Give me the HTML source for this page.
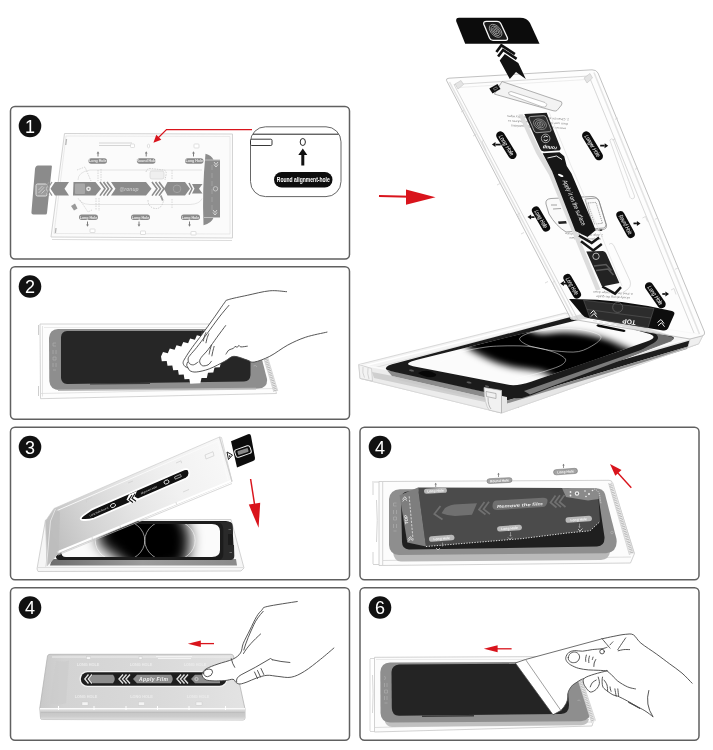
<!DOCTYPE html>
<html><head><meta charset="utf-8">
<style>
html,body{margin:0;padding:0;background:#fff;}
body{width:713px;height:750px;overflow:hidden;font-family:"Liberation Sans",sans-serif;}
svg{display:block;}
.pn{fill:#fff;stroke:#606060;stroke-width:1.5;}
.num{fill:#fff;font-family:"Liberation Sans",sans-serif;font-size:18px;text-anchor:middle;}
.ln{fill:none;stroke:#444;stroke-width:0.9;stroke-linecap:round;stroke-linejoin:round;}
.hand{fill:#fff;stroke:#333;stroke-width:0.9;stroke-linecap:round;stroke-linejoin:round;}
.tray{fill:none;stroke:#bdbdbd;stroke-width:0.8;}
text{filter:grayscale(1);}
</style></head><body>
<svg width="713" height="750" viewBox="0 0 713 750">
<defs>
<linearGradient id="scr" x1="0" y1="0" x2="1" y2="0">
<stop offset="0" stop-color="#fff"/><stop offset="0.25" stop-color="#999"/><stop offset="0.55" stop-color="#111"/><stop offset="1" stop-color="#000"/>
</linearGradient>
</defs>
<rect width="713" height="750" fill="#fff"/>
<!-- PANELS -->
<g id="panels">
<rect class="pn" x="10.5" y="106.5" width="339" height="152.5" rx="4.5"/>
<rect class="pn" x="10.5" y="266.7" width="339" height="152.5" rx="4.5"/>
<rect class="pn" x="10.5" y="427.2" width="339" height="152.5" rx="4.5"/>
<rect class="pn" x="10.5" y="587.7" width="339" height="152.5" rx="4.5"/>
<rect class="pn" x="360" y="427.2" width="339" height="152.5" rx="4.5"/>
<rect class="pn" x="360" y="587.7" width="339" height="152.5" rx="4.5"/>
</g>
<!-- NUMBERS -->
<g id="nums">
<circle cx="30" cy="126" r="11.3" fill="#111"/><text class="num" x="30" y="132.5">1</text>
<circle cx="30" cy="286.5" r="11.3" fill="#111"/><text class="num" x="30" y="293.0">2</text>
<circle cx="30" cy="447" r="11.3" fill="#111"/><text class="num" x="30" y="453.5">3</text>
<circle cx="30" cy="607.5" r="11.3" fill="#111"/><text class="num" x="30" y="614.0">4</text>
<circle cx="380" cy="447" r="11.3" fill="#111"/><text class="num" x="380" y="453.5">4</text>
<circle cx="380" cy="607.5" r="11.3" fill="#111"/><text class="num" x="380" y="614.0">6</text>
</g>
<g id="p1">
<!-- tray outline -->
<path d="M64.5 133.5 L232.5 134 L232.5 238 L51 237 Z" fill="#fbfbfb" stroke="#cfcfcf" stroke-width="0.9"/>
<path d="M66 136 L230 136.5 L230 234 L54 233.5 Z" fill="none" stroke="#e3e3e3" stroke-width="0.7"/>
<path d="M52 239.5 L232 240.5" stroke="#dcdcdc" stroke-width="1.2" fill="none"/>
<path d="M99 143 h33 M99 145.5 h34" stroke="#d0d0d0" stroke-width="0.9" fill="none"/>
<!-- left tab -->
<path d="M38 165.5 h13 q1 0 0.9 1 L47 213 q-0.2 1.5 -1.5 1.5 h-12 q-2.5 0 -2 -3 L35 169 q0.5 -3.5 3 -3.5z" fill="#8b8b8b"/>
<rect x="36" y="184" width="11" height="12" rx="1.5" fill="#9d9d9d" stroke="#e6e6e6" stroke-width="0.9"/>
<path d="M38.5 193 l6 -6 M38.5 190 l4 -4 M41.5 193.5 l4 -4" stroke="#ddd" stroke-width="0.7"/>
<!-- circle guide -->
<path d="M78 180 q0 -8 12 -10 h112 M78 198 q2 6 12 6.5 h100 q10 -0.5 12 -6" fill="none" stroke="#dedede" stroke-width="0.8"/>
<!-- banner -->
<path d="M55 182 h14 l-4.5 6.8 l4.5 6.8 h-14 l-4.5 -6.8z" fill="#8b8b8b"/>
<path d="M52 182 l-4.500 6.800 l4.500 6.800 M49 182 l-4.500 6.800 l4.500 6.800" fill="none" stroke="#9a9a9a" stroke-width="1.3"/>
<path d="M73.500 182 h22 l5.500 6.800 l-5.500 6.800 h-22.500z" fill="#8b8b8b"/>
<path d="M100 182 l5 6.800 l-5 6.800 M103.500 182 l5 6.800 l-5 6.800 M107 182 l5 6.800 l-5 6.800" fill="none" stroke="#8b8b8b" stroke-width="1.6"/>
<path d="M111 182 h35 l5.500 6.800 l-5.500 6.800 h-35 l4.500 -6.800z" fill="#8b8b8b"/>
<path d="M152 182 l5 6.800 l-5 6.800 M155.500 182 l5 6.800 l-5 6.800 M159 182 l5 6.800 l-5 6.800" fill="none" stroke="#8b8b8b" stroke-width="1.6"/>
<path d="M167.500 182 h17.500 l5 6.800 l-5 6.800 h-17.500 l-3.500 -6.800z" fill="#8b8b8b"/>
<path d="M189 183 l3 5.800 l-3 5.800" fill="none" stroke="#8b8b8b" stroke-width="1.5"/>
<path d="M192 184 h10.500 l-3.500 4.800 l3.500 4.800 h-10.500 l2.500 -4.800z" fill="#8b8b8b"/>
<!-- banner details -->
<rect x="75" y="183.500" width="10" height="10.500" rx="1" fill="#a8a8a8"/>
<circle cx="88.500" cy="188.800" r="2.400" fill="#e8e8e8"/>
<circle cx="88.500" cy="188.800" r="0.900" fill="#8b8b8b"/>
<circle cx="177" cy="188.800" r="3.800" fill="none" stroke="#a3a3a3" stroke-width="1"/>
<text x="129" y="191" font-family="Liberation Sans,sans-serif" font-size="5" font-style="italic" font-weight="bold" fill="#c4c4c4" text-anchor="middle">@ronup</text>
<!-- sketch details -->
<path d="M77 170 l8 -3 l6 14 M80 200 l8 12 l4 -2 M98 170 v11 M101 169 v12 M96 198 v12 M99 198 v13" fill="none" stroke="#c9c9c9" stroke-width="0.7" stroke-dasharray="1.500 1"/>
<path d="M71 206 l4 -2.500 l2.500 5 l-3.500 2z" fill="#9a9a9a"/>
<path d="M146 172 q1 -4 5 -3.500 l13 1.500 q3 1 2 5 l-1 5 M148 200 q0 6 5 8 q6 2 9 -3 l2 -5" fill="none" stroke="#c6c6c6" stroke-width="0.8" stroke-dasharray="1.500 1"/>
<rect x="150" y="171" width="14" height="8" rx="2" fill="#efefef" stroke="#d0d0d0" stroke-width="0.6"/>
<path d="M172 170 v9 M172 199 v10" stroke="#d0d0d0" stroke-width="0.8" stroke-dasharray="1.500 1" fill="none"/>
<path d="M160 196 l1.500 -1 l2 5 l-1.500 1z" fill="#999"/>
<!-- right block -->
<path d="M205.500 153.700 q6 1.500 8 6 h6.500 v58 h-6.500 q-2 5.500 -10 7.500 q-1.500 -36 2 -71.500z" fill="#8c8c8c"/>
<path d="M205 160 h15 M204 217.500 h16" stroke="#d6d6d6" stroke-width="0.7"/>
<path d="M212 165 v46" stroke="#a6a6a6" stroke-width="0.8" stroke-dasharray="5 3"/>
<circle cx="215.500" cy="188.800" r="2.200" fill="none" stroke="#cfcfcf" stroke-width="0.8"/>
<path d="M214 162 l2 2.500 l2 -2.500 M214 164.500 l2 2.500 l2 -2.500 M213 210 l2 2.500 l2 -2.500 M213 212.500 l2 2.500 l2 -2.500" stroke="#e8e8e8" stroke-width="0.8" fill="none"/>
<!-- labels -->
<g fill="#8a8a8a">
<rect x="88.500" y="158.300" width="18.500" height="5.400" rx="2.700"/>
<rect x="137" y="158.300" width="18.500" height="5.400" rx="2.700"/>
<rect x="185" y="158.300" width="18.500" height="5.400" rx="2.700"/>
<rect x="79" y="214.600" width="19" height="5.400" rx="2.700"/>
<rect x="131" y="214.600" width="19" height="5.400" rx="2.700"/>
<rect x="181" y="214.600" width="19" height="5.400" rx="2.700"/>
</g>
<g font-family="Liberation Sans,sans-serif" font-size="3.600" font-weight="bold" fill="#ececec" text-anchor="middle">
<text x="97.800" y="162.300">Long Hole</text><text x="146.300" y="162.300">Round Hole</text><text x="194.300" y="162.300">Long Hole</text>
<text x="88.500" y="218.600">Long Hole</text><text x="140.500" y="218.600">Long Hole</text><text x="190.500" y="218.600">Long Hole</text>
</g>
<g stroke="#7d7d7d" stroke-width="1" fill="#7d7d7d">
<path d="M98 156.500 v-3.500 M146.200 156.500 v-3.500 M193.500 156.500 v-3.500 M87.500 221.500 v3.500 M139 221.500 v3.500 M189.500 221.500 v3.500"/>
<path d="M96.600 153.500 l1.400 -2.200 l1.400 2.200z M144.800 153.500 l1.400 -2.200 l1.400 2.200z M192.100 153.500 l1.400 -2.200 l1.400 2.200z M86.100 224.500 l1.400 2.200 l1.400 -2.200z M137.600 224.500 l1.400 2.200 l1.400 -2.200z M188.100 224.500 l1.400 2.200 l1.400 -2.200z" stroke="none"/>
</g>
<g fill="#fff" stroke="#d2d2d2" stroke-width="0.7">
<rect x="130.500" y="144" width="4" height="3.500" rx="0.800"/>
<rect x="194" y="144" width="5" height="4" rx="0.800"/>
<ellipse cx="148.500" cy="146" rx="1.200" ry="1.800"/>
<rect x="90" y="229" width="5" height="3.500" rx="0.500"/>
<rect x="140.500" y="231" width="5" height="3.500" rx="0.500"/>
<rect x="191" y="231.500" width="5" height="3.500" rx="0.500"/>
</g>
<path d="M66.500 139 l-0.800 6 M56 228 l-0.600 5" stroke="#b5b5b5" stroke-width="1.300"/>
<!-- red arrow -->
<path d="M252 129.600 L166.500 129.600 L157 139" fill="none" stroke="#d9141c" stroke-width="1.200"/>
<path d="M153.400 142.800 L156.300 134.800 L161.300 139.800z" fill="#d9141c"/>
<!-- callout -->
<rect x="250.500" y="126.800" width="90.500" height="69.800" rx="15" fill="#fff" stroke="#555" stroke-width="0.900"/>
<path d="M253 134.200 H338.500" stroke="#222" stroke-width="1"/>
<rect x="250.500" y="139.200" width="21.500" height="6.300" rx="1.200" fill="#fff" stroke="#222" stroke-width="0.900"/>
<ellipse cx="302.800" cy="142" rx="2.600" ry="3.500" fill="#fff" stroke="#111" stroke-width="0.900"/>
<path d="M301.300 165.500 v-10.500 h-3 l4.500 -6.500 l4.500 6.500 h-3 v10.500z" fill="#111"/>
<rect x="274" y="172" width="58.500" height="15.500" rx="7.700" fill="#0d0d0d"/>
<text x="303.300" y="182.200" font-family="Liberation Sans,sans-serif" font-size="7" font-weight="bold" fill="#fff" text-anchor="middle" textLength="53" lengthAdjust="spacingAndGlyphs">Round alignment-hole</text>
</g>

<g id="p2">
<!-- tray -->
<path d="M40 324 L252 324 L262 344 L276.500 393.500 L40.500 398.700Z" fill="#fdfdfd" stroke="#c9c9c9" stroke-width="0.800"/>
<path d="M42.500 326 V396.500 M40 393.500 L274 388.500" fill="none" stroke="#d9d9d9" stroke-width="0.700"/>
<path d="M38.500 325 v10 M38.500 386 v10" stroke="#c2c2c2" stroke-width="0.800"/>
<path d="M44 327.500 H250" stroke="#e2e2e2" stroke-width="0.700"/>
<!-- phone body -->
<path d="M58 329 H244 Q254 330 257.500 342 L267 379 Q268 388.300 258 388.600 L60 390.300 Q50 390 49.300 381 L49 338 Q49.500 329.500 58 329Z" fill="#8e8e8e"/>
<path d="M58 390.300 L256 388.600" stroke="#b9b9b9" stroke-width="1.600" fill="none"/>
<!-- screen -->
<path d="M67 331 H244 Q250 331.500 250.500 338 L250.500 375 Q250 381.300 244 381.500 L67 384 Q61.500 383.500 61 378 V337 Q61.500 331.500 67 331Z" fill="#262626"/>
<path d="M90 383.200 L150 382.600 v1.500 l-60 0.500z" fill="#3a3a3a"/>
<g stroke="#a9a9a9" stroke-width="0.800" fill="none"><path d="M53 343 h3 M53 343 v3 h3 M53 350 v4 M56 350 v4 M53 357 h3 v3 h-3z M53 363 v4 M56 363 v4 M53 370 h3"/></g>
<!-- right wall hatch -->
<path d="M259.500 344 L273.800 392 L277.800 391 L263.500 343.500Z" fill="#ececec"/>
<path d="M261.500 344.500 L275.700 391" stroke="#a9a9a9" stroke-width="3" stroke-dasharray="0.600 1.100" fill="none"/>
<path d="M259.500 344 L273.800 392 M263.500 343.500 L277.800 391" stroke="#c4c4c4" stroke-width="0.600" fill="none"/>
<path d="M253.500 366 q2.500 -1.500 3.500 1" stroke="#b5b5b5" stroke-width="0.700" fill="none"/>
<!-- cloth -->
<path d="M161.0 356.5 L163.0 352.0 L167.8 353.2 L169.8 348.6 L174.6 349.8 L176.5 345.3 L181.3 346.5 L183.3 342.0 L188.1 343.2 L190.1 338.6 L194.9 339.8 L196.9 335.3 L201.7 336.5 L206.7 337.8 L206.5 342.9 L211.5 344.1 L211.3 349.2 L216.3 350.5 L216.2 355.6 L221.1 356.9 L221.0 362.0 L219.8 367.2 L214.5 367.4 L213.3 372.5 L208.0 372.8 L206.8 377.9 L201.5 378.1 L200.3 383.3 L195.0 383.5 L190.2 383.8 L189.3 379.0 L184.5 379.3 L183.7 374.5 L178.8 374.8 L178.0 370.0 L173.2 370.3 L172.3 365.5 L167.5 365.8 L166.7 361.0 L161.8 361.3Z" fill="#fff"/>
<!-- hand -->
<path d="M286.6 291.7 C283.8 291.6 276.4 290.2 269.8 290.8 C263.2 291.4 254.2 293.8 247.3 295.3 C240.4 296.8 232.0 298.4 228.2 299.7 C224.4 301.0 226.8 299.8 224.4 302.9 C222.0 306.0 217.4 313.0 213.7 318.2 C210.0 323.4 206.0 329.0 202.4 333.9 C198.8 338.8 195.1 343.4 192.3 347.3 C189.5 351.2 187.1 354.8 185.6 357.4 C184.1 359.9 183.2 361.1 183.1 362.6 C183.0 364.1 184.1 365.5 184.9 366.4 C185.7 367.3 187.3 367.3 188.1 368.0 C188.9 368.7 188.6 370.0 189.9 370.7 C191.2 371.4 193.0 372.3 196.2 372.0 C199.4 371.7 204.4 370.7 209.2 368.9 C214.0 367.1 220.8 363.3 224.9 361.2 C229.0 359.1 230.2 356.5 233.9 356.3 C237.6 356.1 243.9 359.1 247.3 360.1 C250.7 361.1 250.3 362.7 254.1 362.1 C257.9 361.5 264.2 359.1 269.8 356.3 C275.4 353.5 281.7 348.3 287.7 345.1 C293.7 341.9 299.1 339.4 305.7 337.2 C312.2 335.0 323.4 333.0 327.0 332.1Z" fill="#fff"/>
<path d="M286.6 291.7 C283.8 291.6 276.4 290.2 269.8 290.8 C263.2 291.4 254.2 293.8 247.3 295.3 C240.4 296.8 232.0 298.4 228.2 299.7 C224.4 301.0 226.8 299.8 224.4 302.9 C222.0 306.0 217.4 313.0 213.7 318.2 C210.0 323.4 206.0 329.0 202.4 333.9 C198.8 338.8 195.1 343.4 192.3 347.3 C189.5 351.2 187.1 354.8 185.6 357.4 C184.1 359.9 183.2 361.1 183.1 362.6 C183.0 364.1 184.1 365.5 184.9 366.4 C185.7 367.3 187.3 367.3 188.1 368.0 C188.9 368.7 188.6 370.0 189.9 370.7 C191.2 371.4 193.0 372.3 196.2 372.0 C199.4 371.7 204.4 370.7 209.2 368.9 C214.0 367.1 220.8 363.3 224.9 361.2 C229.0 359.1 230.2 356.5 233.9 356.3 C237.6 356.1 243.9 359.1 247.3 360.1 C250.7 361.1 250.3 362.7 254.1 362.1 C257.9 361.5 264.2 359.1 269.8 356.3 C275.4 353.5 281.7 348.3 287.7 345.1 C293.7 341.9 299.1 339.4 305.7 337.2 C312.2 335.0 323.4 333.0 327.0 332.1" class="ln"/>
<path d="M228.9 305.4 C227.3 307.3 223.0 312.2 219.3 317.0 C215.6 321.8 210.7 328.8 206.9 333.9 C203.2 338.9 199.6 343.8 196.8 347.3 C194.0 350.9 191.6 353.2 190.1 355.2 C188.6 357.1 188.2 357.6 188.1 359.0 C188.0 360.4 188.5 362.5 189.4 363.5 C190.3 364.5 192.1 365.0 193.5 364.8 C194.9 364.6 197.2 362.6 198.0 362.1" class="ln"/>
<path d="M225.6 325.6 C224.2 327.5 219.9 333.2 217.0 337.2 C214.1 341.2 210.7 346.2 208.1 349.6 C205.5 353.0 202.7 355.3 201.3 357.4 C199.9 359.4 199.5 360.5 199.7 361.9 C199.9 363.3 201.0 365.2 202.4 365.7 C203.8 366.2 206.6 365.6 208.1 364.8 C209.6 364.1 210.8 361.8 211.4 361.2" class="ln"/>
<path d="M188.1 368.0 C187.9 367.6 186.8 366.3 186.7 365.3 C186.6 364.3 187.4 362.6 187.6 362.1" class="ln"/>
<path d="M205.8 332.7 C205.5 333.4 204.6 335.8 204.2 337.2 C203.8 338.6 203.5 340.4 203.3 341.0 M208.7 333.9 C208.4 334.7 207.3 337.3 206.9 338.8 C206.5 340.3 206.2 342.1 206.0 342.8 M211.4 345.1 C211.2 345.9 210.5 348.1 210.1 349.6 C209.7 351.1 209.3 353.4 209.2 354.1 M214.1 346.4 C213.9 347.2 213.2 349.8 212.8 351.4 C212.4 353.0 212.1 355.1 211.9 355.9 M202.4 330.5 C202.2 331.1 201.7 333.3 201.5 333.9" class="ln"/>
<path d="M226.0 354.1 C226.5 353.4 227.7 350.9 228.9 350.0 C230.1 349.1 232.4 349.0 233.4 348.4 C234.4 347.8 234.4 346.6 235.0 346.4 C235.6 346.2 236.6 347.4 237.2 347.3 C237.8 347.2 238.2 345.6 238.8 345.5 C239.4 345.4 239.6 346.8 241.0 346.9 C242.4 347.0 246.2 346.3 247.3 346.2" class="ln"/>
</g>

<g id="p3">
<defs>
<linearGradient id="p3scr" gradientUnits="userSpaceOnUse" x1="78" y1="564" x2="134" y2="527">
<stop offset="0" stop-color="#ffffff"/><stop offset="0.3" stop-color="#f4f4f4"/><stop offset="0.5" stop-color="#b0b0b0"/><stop offset="0.7" stop-color="#3c3c3c"/><stop offset="0.88" stop-color="#080808"/><stop offset="1" stop-color="#000"/>
</linearGradient>
<linearGradient id="p3scr2" gradientUnits="userSpaceOnUse" x1="145" y1="0" x2="221" y2="0">
<stop offset="0" stop-color="#000"/><stop offset="0.25" stop-color="#0c0c0c"/><stop offset="0.5" stop-color="#5e5e5e"/><stop offset="0.72" stop-color="#cfcfcf"/><stop offset="0.88" stop-color="#fafafa"/><stop offset="1" stop-color="#ffffff"/>
</linearGradient>
<clipPath id="p3c1"><rect x="55" y="515" width="90.500" height="50"/></clipPath>
<clipPath id="p3c2"><rect x="145.500" y="515" width="90" height="50"/></clipPath>
<linearGradient id="p3lid" gradientUnits="userSpaceOnUse" x1="50" y1="540" x2="225" y2="455">
<stop offset="0" stop-color="#bebebe"/><stop offset="0.2" stop-color="#d2d2d2"/><stop offset="0.45" stop-color="#e4e4e4"/><stop offset="0.7" stop-color="#f1f1f1"/><stop offset="1" stop-color="#f8f8f8"/>
</linearGradient>
<linearGradient id="p3side" gradientUnits="userSpaceOnUse" x1="50" y1="0" x2="235" y2="0">
<stop offset="0" stop-color="#6e6e6e"/><stop offset="0.5" stop-color="#9c9c9c"/><stop offset="1" stop-color="#8a8a8a"/>
</linearGradient>
<clipPath id="p3sc"><path d="M68 524 H212 q7.500 0 8 7 V550 q0 7 -8 7 H66 q-5 0 -4.500 -5 L62 530 q1 -6 6 -6z"/></clipPath><filter id="p3blur" x="-40%" y="-40%" width="180%" height="180%"><feGaussianBlur stdDeviation="7"/></filter><filter id="p3blur2" x="-40%" y="-40%" width="180%" height="180%"><feGaussianBlur stdDeviation="4.500"/></filter><clipPath id="p3clip"><path d="M60 524 H222 V559 H60Z"/></clipPath>
</defs>
<!-- base tray -->
<path d="M45.500 520 L231 519.500 L244 568 L241 571 L38 571.500 L37 569Z" fill="#f6f6f6" stroke="#c8c8c8" stroke-width="0.800"/>
<path d="M38 567.500 H243" stroke="#d5d5d5" stroke-width="0.700"/>
<!-- phone side -->
<path d="M52 559 H236 L237 565.500 H50Z" fill="url(#p3side)"/>
<!-- phone black frame -->
<path d="M66 521 H226 q6 0 6.500 6 L234 554 q0 6 -6 6 H60 q-5 0 -4 -6 L58 527 q1 -6 8 -6z" fill="#1c1c1c"/>
<!-- screen -->
<path d="M68 524 H212 q7.500 0 8 7 V550 q0 7 -8 7 H66 q-5 0 -4.500 -5 L62 530 q1 -6 6 -6z" fill="#fbfbfb"/>
<g clip-path="url(#p3sc)"><path d="M98.0 536.0 C100.0 530.2 103.7 517.2 116.0 513.0 C128.3 508.8 160.2 508.7 172.0 511.0 C183.8 513.3 184.2 521.2 187.0 527.0 C189.8 532.8 190.2 539.2 189.0 546.0 C187.8 552.8 189.2 564.3 180.0 568.0 C170.8 571.7 144.5 569.8 134.0 568.0 C123.5 566.2 122.0 560.3 117.0 557.0 C112.0 553.7 107.2 551.5 104.0 548.0 C100.8 544.5 96.0 541.8 98.0 536.0Z" fill="#000" filter="url(#p3blur)"/><path d="M122.0 528.0 C124.0 523.7 131.3 520.5 138.0 519.0 C144.7 517.5 156.7 516.5 162.0 519.0 C167.3 521.5 169.0 528.8 170.0 534.0 C171.0 539.2 170.7 545.7 168.0 550.0 C165.3 554.3 159.3 559.0 154.0 560.0 C148.7 561.0 140.7 558.5 136.0 556.0 C131.3 553.5 128.3 549.7 126.0 545.0 C123.7 540.3 120.0 532.3 122.0 528.0Z" fill="#000" filter="url(#p3blur2)"/>
<g fill="none" stroke="#fff" stroke-opacity="0.800" stroke-width="0.700"><ellipse cx="120" cy="540.500" rx="24.800" ry="21"/><ellipse cx="170" cy="540.500" rx="25.200" ry="21"/></g>
</g>
<!-- right bracket dark -->
<path d="M217 522 h12 q3.500 0 3.600 3.500 l0.400 8.500 h-5 v11 h6 l0.300 11 q0 4 -4 4 h-11 q4 -1 4 -6 V529 q0 -6 -6.300 -7z" fill="#2a2a2a"/>
<path d="M228.500 529.500 h2.500 M229.500 552.500 h2.500" stroke="#777" stroke-width="0.800"/>
<!-- lid -->
<path d="M54 508.500 L219.500 437 L221.500 437.500 L232 481.500 L58 554 L47 566 L45.500 521Z" fill="url(#p3lid)" stroke="#cdcdcd" stroke-width="0.700"/>
<path d="M57 552.500 L231 481" stroke="#fff" stroke-width="2" fill="none"/>
<path d="M58 555 L232 483.500" stroke="#c9c9c9" stroke-width="0.700" fill="none"/>
<path d="M56 511 L218 441 L228 480" stroke="#fafafa" stroke-width="0.900" fill="none"/>
<path d="M55 508.500 L49.500 521 L45.500 567 L58.500 553.500 L60 512Z" fill="#bcbcbc" opacity="0.75"/><path d="M55.500 509 L50.500 521 L46.500 566" stroke="#e6e6e6" stroke-width="0.900" fill="none"/>
<path d="M219.500 437 L232 481.500" stroke="#d0d0d0" stroke-width="1.200" fill="none"/>
<g stroke="#cfcfcf" stroke-width="0.700" fill="none">
<path d="M86 500 l6 -2.500 M86 500 l0.500 2.500 M128 483 l5 -2 M176 463 l5 -2.200 M181 460.800 l0.600 2.400 M92 537 l0.500 2.500 M120 525.500 l0.500 2.500 M176 502 l0.500 2.500 M205 455 l8 -3.300 l1 4 l-8 3.300z M183 492 l6 -2.500 M150 489 l0 3"/>
</g>
<!-- strip -->
<path d="M82 519.800 Q79 519 83 515.600 L92 509.300 L184 469.300 Q188.500 468 189.200 472 Q190 476.500 186 478.500 L94 518.500 Q88 520.600 82 519.800Z" fill="#111" stroke="#fff" stroke-width="1.800"/>
<path d="M129 494.500 l8 -3.500 l-2.500 5.500 l5 3 l-8 3.500 l-5 -3.200z" fill="#fff"/>
<path d="M132 495 l-3 4.500 l4 3 M135 493.800 l-3 4.500 l4 3" stroke="#111" stroke-width="1.100" fill="none"/>
<ellipse cx="113" cy="505.500" rx="2.600" ry="1.900" fill="none" stroke="#fff" stroke-width="0.800" transform="rotate(-23 113 505.500)"/>
<ellipse cx="166.500" cy="482" rx="2.600" ry="1.900" fill="none" stroke="#fff" stroke-width="0.800" transform="rotate(-23 166.500 482)"/>
<path d="M174.500 477 l6 -2.600 l0.800 2.200 l-6 2.600z" fill="none" stroke="#eee" stroke-width="0.600"/>
<text transform="translate(90 516.500) rotate(-23.500)" font-family="Liberation Sans,sans-serif" font-size="2.600" fill="#ddd">Long Hole Round</text>
<text transform="translate(141 494.500) rotate(-23.500)" font-family="Liberation Sans,sans-serif" font-size="2.600" fill="#ddd">Alignment Hole</text>
<!-- tab -->
<path d="M231 441.200 L248 434.200 Q250.500 433.300 251 436 L255 458 Q255.300 460.300 253 461 L237 467.500Z" fill="#0c0c0c"/>
<rect x="-8" y="-4" width="16" height="8" rx="2.200" transform="translate(243 451.500) rotate(-19)" fill="none" stroke="#f2f2f2" stroke-width="1"/>
<rect x="-5.500" y="-2" width="11" height="4" rx="1" transform="translate(243 451.500) rotate(-19)" fill="#888"/>
<path d="M227 452 l5.500 3 l-4 4.500z" fill="#fff" stroke="#222" stroke-width="1"/>
<path d="M228.800 455 l2 1 l-1.400 1.600z" fill="#222"/>
<!-- arrow -->
<path d="M250.600 479 L254.500 504" stroke="#d9141c" stroke-width="1.500" fill="none"/>
<path d="M248.800 504.600 L260.200 502.800 L258.600 527.800Z" fill="#d9141c"/>
</g>

<g id="p4l">
<defs>
<linearGradient id="p4top" gradientUnits="userSpaceOnUse" x1="40" y1="0" x2="245" y2="0">
<stop offset="0" stop-color="#c9c9c9"/><stop offset="0.12" stop-color="#d3d3d3"/><stop offset="0.6" stop-color="#dadada"/><stop offset="1" stop-color="#e3e3e3"/>
</linearGradient>
<linearGradient id="p4front" x1="0" y1="0" x2="0" y2="1">
<stop offset="0" stop-color="#ececec"/><stop offset="0.35" stop-color="#c6c6c6"/><stop offset="0.7" stop-color="#cdcdcd"/><stop offset="1" stop-color="#e2e2e2"/>
</linearGradient>
</defs>
<path d="M50 654.300 H231 Q233 654.300 233.500 656 L245 709 L245 718 Q245 720 243 720 L42.500 719.500 Q40.500 719.500 40.500 717.500 L39.800 708 L47.500 656 Q48 654.300 50 654.300Z" fill="url(#p4top)" stroke="#b4b4b4" stroke-width="0.800"/>
<path d="M39.800 708.300 H245 V718 Q245 720 243 720 L42.500 719.500 Q40.500 719.500 40.500 717.500Z" fill="url(#p4front)"/>
<path d="M40 708.600 H245" stroke="#fafafa" stroke-width="1.300"/>
<path d="M41 712.500 H244.500" stroke="#bdbdbd" stroke-width="0.800"/>
<path d="M52 657 H230" stroke="#ededed" stroke-width="1"/>
<path d="M56 661 q8 1 13 -0.500 l-3 43 q-8 1.500 -16 0z" fill="#cbcbcb" opacity="0.600"/>
<g stroke="#fff" stroke-width="1"><path d="M58.500 706 v4 M94 706 v4 M126 706 v4 M157.500 706 v4 M189 706 v4 M225.500 706 v4"/></g>
<g fill="#f4f4f4" stroke="#c9c9c9" stroke-width="0.400"><rect x="82" y="702" width="6" height="3.200"/><rect x="138.500" y="702" width="6" height="3.200"/><rect x="196" y="702" width="6" height="3.200"/><rect x="86.500" y="656.800" width="4" height="2.400"/><rect x="139" y="656.800" width="3" height="2.400"/></g>
<path d="M156 656.500 h36 M158 658.500 h33" stroke="#f3f3f3" stroke-width="1"/>
<g font-family="Liberation Sans,sans-serif" font-size="3.800" fill="#ececec" text-anchor="middle" font-weight="bold">
<text x="88" y="665.500">LONG HOLE</text><text x="141" y="665.500">LONG HOLE</text><text x="195" y="665.500">LONG HOLE</text>
<text x="86" y="697.500">LONG HOLE</text><text x="141.500" y="697.500">LONG HOLE</text><text x="198" y="697.500">LONG HOLE</text>
</g>
<!-- strip -->
<rect x="79.500" y="671" width="148" height="16" rx="8" fill="#f4f4f4"/>
<rect x="80.800" y="672.200" width="145.500" height="13.600" rx="6.800" fill="#1e1e1e"/>
<path d="M93 674.800 H113 Q116.500 679 113 683.200 H93 L89 679Z" fill="#8d8d8d"/>
<path d="M88.500 674.500 L84.800 679 L88.500 683.500 M92 674.500 L88.300 679 L92 683.500" fill="none" stroke="#e2e2e2" stroke-width="1.300"/>
<path d="M123 674.500 L119 679 L123 683.500 M126.500 674.500 L122.500 679 L126.500 683.500 M130 674.500 L126 679 L130 683.500" fill="none" stroke="#e2e2e2" stroke-width="1.400"/>
<path d="M137 674.800 H171 Q174.500 679 171 683.200 H137 L133 679Z" fill="#8d8d8d"/>
<text x="153.500" y="681.300" font-family="Liberation Sans,sans-serif" font-size="5" font-weight="bold" font-style="italic" fill="#f1f1f1" text-anchor="middle" textLength="29">Apply Film</text>
<path d="M181 674.500 L177 679 L181 683.500 M184.500 674.500 L180.500 679 L184.500 683.500 M188 674.500 L184 679 L188 683.500" fill="none" stroke="#e2e2e2" stroke-width="1.400"/>
<path d="M195 674.800 H220 V683.200 H195 L191 679Z" fill="#8d8d8d"/>
<circle cx="196.500" cy="679" r="1.600" fill="none" stroke="#eee" stroke-width="0.600"/>
<!-- red arrow -->
<path d="M214 643.600 H199" stroke="#d9141c" stroke-width="1.300"/>
<path d="M187.800 643.700 L200.800 640.400 V647Z" fill="#d9141c"/>
<!-- hand -->
<path d="M297.3 601.5 C292.3 602.3 273.1 605.1 267.2 606.5 C261.3 607.9 263.7 608.3 261.9 610.0 C260.1 611.7 258.6 613.3 256.6 616.6 C254.6 619.9 252.1 625.5 249.9 630.0 C247.7 634.5 244.9 639.5 243.3 643.3 C241.7 647.1 242.3 650.3 240.5 653.0 C238.7 655.7 236.3 657.5 232.6 659.3 C228.8 661.1 222.4 662.4 218.0 664.0 C213.6 665.6 208.7 667.2 206.0 669.0 C203.3 670.8 202.2 672.8 202.0 674.5 C201.8 676.2 203.3 678.2 205.0 679.3 C206.7 680.3 208.7 680.6 212.0 680.8 C215.3 681.0 221.1 680.9 224.6 680.6 C228.1 680.4 231.1 679.0 233.0 679.3 C234.9 679.6 235.0 681.8 236.2 682.6 C237.4 683.4 238.2 684.1 240.0 684.0 C241.8 683.9 244.2 683.0 247.0 682.0 C249.8 681.0 253.3 679.1 256.6 678.0 C259.9 676.9 263.4 675.6 267.0 675.3 C270.6 675.0 273.9 676.1 277.9 676.4 C281.9 676.7 286.8 678.1 291.2 677.2 C295.6 676.4 299.6 674.3 304.5 671.3 C309.4 668.3 315.6 663.2 320.5 659.3 C325.4 655.4 331.7 649.9 333.9 648.0Z" fill="#fff"/>
<path d="M297.3 601.5 C292.3 602.3 273.1 605.1 267.2 606.5 C261.3 607.9 263.7 608.3 261.9 610.0 C260.1 611.7 258.6 613.3 256.6 616.6 C254.6 619.9 252.1 625.5 249.9 630.0 C247.7 634.5 244.9 639.5 243.3 643.3 C241.7 647.1 242.3 650.3 240.5 653.0 C238.7 655.7 236.3 657.5 232.6 659.3 C228.8 661.1 222.4 662.4 218.0 664.0 C213.6 665.6 208.7 667.2 206.0 669.0 C203.3 670.8 202.2 672.8 202.0 674.5 C201.8 676.2 203.3 678.2 205.0 679.3 C206.7 680.3 208.7 680.6 212.0 680.8 C215.3 681.0 221.1 680.9 224.6 680.6 C228.1 680.4 231.1 679.0 233.0 679.3 C234.9 679.6 235.0 681.8 236.2 682.6 C237.4 683.4 238.2 684.1 240.0 684.0 C241.8 683.9 244.2 683.0 247.0 682.0 C249.8 681.0 253.3 679.1 256.6 678.0 C259.9 676.9 263.4 675.6 267.0 675.3 C270.6 675.0 273.9 676.1 277.9 676.4 C281.9 676.7 286.8 678.1 291.2 677.2 C295.6 676.4 299.6 674.3 304.5 671.3 C309.4 668.3 315.6 663.2 320.5 659.3 C325.4 655.4 331.7 649.9 333.9 648.0" class="ln"/>
<path d="M263.200 611.300 C259 616 256 620 253.900 624.600 C250 633 246 642 243.800 650 M260.600 634 C254 640 247 647 243.500 653.500 M231.300 658.700 q1 5 3.400 8.600 M272.600 659.800 q8 2 17.300 2.700 M272.600 659.800 q-2.500 -2.500 -3.500 -0.500 q-13 8 -28 15.500 q-5.500 3 -4.500 7 M254.500 672 l3 6.500 M257.500 670.500 l3 6.500 M261 668.500 l2.800 6" class="ln"/>
<path d="M203.500 673 q0.500 -3.500 5.500 -4 q3.800 0 3.600 3.300 q-0.800 4 -5 4.400 q-3.600 0 -4.100 -3.700z" class="ln" fill="#fff"/>
</g>

<g id="p4r">
<!-- tray -->
<path d="M379 481.500 L609 480.300 L611.500 481 L634.500 553.500 L630.500 563 L379 565.500Z" fill="#fcfcfc" stroke="#c6c6c6" stroke-width="0.800"/>
<path d="M382.700 482 V565 M373 483 v12 M373 552 v12 M373 564.500 h6 M372 482 h7" stroke="#c9c9c9" stroke-width="0.800" fill="none"/>
<path d="M376.500 500 q1.500 20 0 42" stroke="#d5d5d5" stroke-width="1" fill="none"/>
<path d="M383 560.500 L631 557" stroke="#d4d4d4" stroke-width="0.800"/>
<!-- right wall hatch -->
<path d="M608.500 483 L629.500 555 L634 553.500 L612.700 482.500Z" fill="#ececec"/>
<path d="M610.500 484 L631.700 553.500" stroke="#a9a9a9" stroke-width="3.200" stroke-dasharray="0.600 1.100" fill="none"/>
<path d="M608.500 483 L629.500 555 M612.700 482.500 L634 553.500" stroke="#c4c4c4" stroke-width="0.600" fill="none"/>
<!-- phone side -->
<path d="M393 552 H610 q-1 7.500 -9 8 L401 561.500 q-7 0 -8 -9.500z" fill="#b9b9b9"/>
<!-- phone body -->
<path d="M400 489.300 L596 488.300 Q603 488.600 605 494 L616.500 539 Q618 552.500 606 553.300 L399 555 Q389.500 554.500 389 545 L389 499 Q390 489.800 400 489.300Z" fill="#8e8e8e"/>
<!-- screen black -->
<path d="M408 491.500 L590 490.500 Q597 490.800 598.500 497 L604.500 537 Q605 546 597 546.500 L409 549.500 Q402 549 402 542 L401 498 Q401.500 492 408 491.500Z" fill="#1f1f1f"/>
<g stroke="#a8a8a8" stroke-width="0.800" fill="none"><path d="M393.500 503 h3 M393.500 503 v3 h3 M393.500 510 v4 M396.500 510 v4 M393.500 517 h3 v3 h-3z M393.500 524 v4 M396.500 524 v4 M393.500 531 h3"/></g>
<circle cx="612" cy="532.500" r="1.300" fill="none" stroke="#b5b5b5" stroke-width="0.600"/>
<!-- film main -->
<path d="M418 487.500 L568 488 L598.500 498.500 L600 521.500 L590 530.800 L567 533 L522 538.600 L426 546.500Z" fill="#4b4b4b"/>
<!-- film top-right tab -->
<path d="M562 488 L596 488.500 Q599 489 599 492 L598.700 499 L588 500.500 L566 497Z" fill="#8a8a8a"/>
<g fill="#f0f0f0"><circle cx="577" cy="493.500" r="2.200"/><circle cx="570.500" cy="492" r="0.900"/><circle cx="570.500" cy="495.500" r="0.900"/><circle cx="585" cy="491" r="0.800"/><circle cx="589" cy="494" r="1"/><circle cx="592.500" cy="490.500" r="0.800"/><circle cx="586" cy="496.500" r="0.800"/></g>
<circle cx="577" cy="493.500" r="1" fill="#666"/>
<path d="M594 489 q4 1 5.500 5 l1.500 10" stroke="#e9e9e9" stroke-width="0.700" stroke-dasharray="1.200 1" fill="none"/>
<!-- left flap -->
<path d="M399.500 495.300 L418 487.500 L426 546.500 L407.300 542.500Z" fill="#7e7e7e"/>
<path d="M409.200 496.300 L413.200 541.500" stroke="#e5e5e5" stroke-width="0.800" stroke-dasharray="2.200 1.300" fill="none"/>
<path d="M402.500 499.500 l2.200 -2.800 l2.200 2 M402.700 501.500 l2.200 -2.800 l2.200 2 M408 539.500 l2.200 -2.800 l2.200 2 M408.200 541.500 l2.200 -2.800 l2.200 2" stroke="#efefef" stroke-width="0.800" fill="none"/>
<text transform="translate(408.300 524) rotate(-95)" font-family="Liberation Sans,sans-serif" font-size="4.600" font-weight="bold" fill="#ededed">TOP</text>
<!-- dotted line -->
<path d="M426 546.500 L522 538.600 L567 533 L590 530.800 L600 521.500" stroke="#f0f0f0" stroke-width="0.900" stroke-dasharray="1.300 1.400" fill="none"/>
<!-- banner -->
<g fill="#707070">
<path d="M445 508 Q450 504.500 458 504.300 L477 503.200 Q474.500 509 472 514.800 L455 516 Q448 516 441.500 513.300Z"/>
<path d="M496 500.500 L543 497.700 Q548 497.600 547.500 501 Q547 506.500 543 507 L498 510 Q492.500 510.500 492.500 506 Q492.500 501 496 500.500Z"/>
</g>
<g fill="none" stroke="#707070" stroke-width="1.700">
<path d="M440.500 506 L434.300 514 L442.500 519.500"/>
<path d="M484.500 502 L479 509.500 L485.500 514.500 M489 501.700 L483.500 509.200 L490 514.200"/>
<path d="M555.500 495.500 L550.500 502.500 L556.500 507.500 M560 495.200 L555 502.200 L561 507.200 M564.500 495 L559.500 502 L565.500 507"/>
</g>
<text transform="translate(497 508) rotate(-3.500)" font-family="Liberation Sans,sans-serif" font-size="4.200" font-weight="bold" font-style="italic" fill="#eaeaea" textLength="46" lengthAdjust="spacingAndGlyphs">Remove the film</text>
<!-- pills -->
<g fill="#b9b9b9">
<rect x="424" y="488.300" width="23" height="5" rx="2.500" transform="rotate(-3 435 491)"/>
<rect x="429" y="535.500" width="25.500" height="5.600" rx="2.800" transform="rotate(-4 441 538)"/>
<rect x="497" y="525.500" width="25" height="5.400" rx="2.700" transform="rotate(-4 509 528)"/>
<rect x="565.500" y="516.500" width="26.500" height="5.600" rx="2.800" transform="rotate(-4 578 519)"/>
</g>
<g fill="#a4a4a4" stroke="#6a6a6a" stroke-width="0.500">
<rect x="487" y="478.200" width="25" height="4.800" rx="2.400" transform="rotate(-3 499 480.500)"/>
<rect x="553.500" y="469" width="24" height="5.200" rx="2.600" transform="rotate(-4 565 471.500)"/>
</g>
<g font-family="Liberation Sans,sans-serif" font-size="3.400" font-weight="bold" fill="#f4f4f4" text-anchor="middle">
<text transform="translate(435.500 492) rotate(-3)">Long Hole</text>
<text transform="translate(441.700 539.700) rotate(-4)">Long Hole</text>
<text transform="translate(509.500 529.500) rotate(-4)">Long Hole</text>
<text transform="translate(578.700 520.700) rotate(-4)">Long Hole</text>
<text transform="translate(499.500 481.900) rotate(-3)">Round Hole</text>
<text transform="translate(565.500 472.900) rotate(-4)">Long Hole</text>
</g>
<g stroke="#777" stroke-width="0.800" fill="none">
<path d="M435.700 487 v-3 M498.500 477 v-3 M563.500 468 v-3"/>
</g>
<g fill="#777"><path d="M434.500 484.500 l1.200 -1.800 l1.200 1.800z M497.300 474.500 l1.200 -1.800 l1.200 1.800z M562.300 465.500 l1.200 -1.800 l1.200 1.800z"/></g>
<g stroke="#9a9a9a" stroke-width="0.800" fill="none"><path d="M442.500 542.500 v3 M510.500 532 v3.500 M579.500 523.500 v3.500"/></g>
<g fill="#9a9a9a"><path d="M441.300 545 l1.200 1.800 l1.200 -1.800z M509.300 535 l1.200 1.800 l1.200 -1.800z M578.300 526.500 l1.200 1.800 l1.200 -1.800z"/></g>
<g stroke="#e0e0e0" stroke-width="0.700" fill="none"><path d="M436 548 l2 2 l2 -2 M508 537.500 l2 2 l2 -2 M578 529 l2 2 l2.500 -2.500"/></g>
<!-- red arrow -->
<path d="M631.300 487.700 L617 472" stroke="#d9141c" stroke-width="1.400"/>
<path d="M610 464 L621.500 470 L615.300 475.800Z" fill="#d9141c"/>
</g>

<g id="p6">
<!-- tray -->
<path d="M374.500 657.300 L572 656.500 L581 681 L593.500 721 L592 726 L374.500 732Z" fill="#fcfcfc" stroke="#c6c6c6" stroke-width="0.800"/>
<path d="M370 659 V731 M370 731.500 h4.500 M370 658.500 h4.500" stroke="#cfcfcf" stroke-width="0.800" fill="none"/>
<path d="M372.500 675 q1.200 18 0 38" stroke="#d8d8d8" stroke-width="1" fill="none"/>
<path d="M375 727.500 L592 722" stroke="#d6d6d6" stroke-width="0.800"/>
<path d="M376 659.500 H571" stroke="#e4e4e4" stroke-width="0.700"/>
<!-- phone side -->
<path d="M384 719 H589 q-1 6 -8 6.300 L392 727 q-6 0 -8 -8z" fill="#c0c0c0"/>
<!-- phone body -->
<path d="M390 662.600 L566 661.800 Q576 662 579 671 L590.500 709 Q592 720.500 581 721.300 L390 722.600 Q381 722 380.500 713 L380.300 672 Q381 663 390 662.600Z" fill="#8e8e8e"/>
<!-- screen -->
<path d="M399 664.500 L556 663.600 Q565 664 566.500 672 L569 705 Q569 713.500 561 714 L399 715.800 Q392 715.500 391.800 708 L391.500 672 Q392 665 399 664.500Z" fill="#242424"/>
<path d="M422 715.400 L474 714.900 v1.600 l-52 0.400z" fill="#3a3a3a"/>
<g stroke="#a8a8a8" stroke-width="0.800" fill="none"><path d="M384.500 676 q2 2 0 4 M384.500 683 v4 M387 683 v4 M384.500 690 h3 v3 h-3z M384.500 696 v4 M387 696 v4 M384.500 703 h3"/></g>
<path d="M577.500 700.500 q2 -1 3 0.500" stroke="#b5b5b5" stroke-width="0.600" fill="none"/>
<!-- hatch -->
<path d="M578.300 681 L591.500 722.500 L595.500 721 L582.300 680Z" fill="#e9e9e9"/>
<path d="M580.300 681 L593.300 721.500" stroke="#a9a9a9" stroke-width="3" stroke-dasharray="0.600 1.100" fill="none"/>
<path d="M578.500 681 L591.500 722.500 M582.300 680.500 L595.500 720.500" stroke="#c4c4c4" stroke-width="0.600" fill="none"/>
<!-- card -->
<path d="M515.300 663 L525.500 659.500 L602 638.800 L614 668 L590 676 Q580 679 572.600 685 Q567 691 567.700 697 Q568 703 560.900 710.500 L553 714.800Z" fill="#fff" stroke="#4a4a4a" stroke-width="0.800" stroke-linejoin="round"/>
<path d="M525.500 659.500 L560.900 710.500" stroke="#777" stroke-width="0.700"/>
<!-- hand -->
<path d="M602.1 638.8 L613.9 636.3 L625.7 634.3 L633.5 634.9 L640.9 643.1 L656.7 654.2 L669.3 663.6 L682.0 673.1 L692.1 683.2 L652.9 716.7 L644.1 710.3 L628.3 702.1 L640.0 708.5 L627.6 701.1 L617.8 696.2 L612.9 694.8 L607.6 691.3 L603.1 687.3 L602.1 681.4 L602.5 677.1 L598.2 677.1 L599.4 683.4 L596.2 689.3 L590.3 692.0 L585.4 686.9 L583.3 682.0 L584.4 678.1 L578.5 668.3 L570.7 664.9 L566.8 661.4 L565.8 657.5 L568.7 652.6 L574.6 650.6 L582.5 651.2 L592.3 649.6Z" fill="#fff"/>
<path d="M602.1 638.8 C604.1 638.4 610.0 637.0 613.9 636.3 C617.8 635.5 622.4 634.5 625.7 634.3 C629.0 634.1 631.0 633.4 633.5 634.9 C636.0 636.4 637.0 639.9 640.9 643.1 C644.8 646.3 652.0 650.8 656.7 654.2 C661.4 657.6 665.1 660.5 669.3 663.6 C673.5 666.8 678.2 669.8 682.0 673.1 C685.8 676.4 690.4 681.5 692.1 683.2" class="ln"/>
<path d="M652.9 716.7 C651.4 715.6 648.2 712.7 644.1 710.3 C640.0 707.9 629.0 702.4 628.3 702.1 C627.6 701.8 640.1 708.7 640.0 708.5 C639.9 708.3 631.3 703.1 627.6 701.1 C623.9 699.1 620.2 697.2 617.8 696.2 C615.3 695.2 614.6 695.6 612.9 694.8 C611.2 694.0 609.2 692.5 607.6 691.3 C606.0 690.0 604.0 688.9 603.1 687.3 C602.2 685.6 602.2 683.1 602.1 681.4 C602.0 679.7 602.4 677.8 602.5 677.1" class="ln"/>
<path d="M607.0 647.3 C606.2 647.5 604.6 648.3 602.1 648.7 C599.6 649.1 595.6 649.2 592.3 649.6 C589.0 650.0 585.5 651.0 582.5 651.2 C579.5 651.4 576.9 650.4 574.6 650.6 C572.3 650.8 570.2 651.5 568.7 652.6 C567.2 653.8 566.1 656.0 565.8 657.5 C565.5 659.0 566.0 660.2 566.8 661.4 C567.6 662.6 568.8 663.8 570.7 664.9 C572.7 666.0 575.5 667.5 578.5 668.3 C581.5 669.1 585.1 669.6 588.4 669.9 C591.7 670.2 595.1 670.1 598.2 670.3 C601.3 670.4 605.5 670.7 607.0 670.8" class="ln" fill="#fff"/>
<path d="M607.0 670.8 C604.9 671.4 598.0 673.0 594.2 674.2 C590.4 675.4 586.2 676.8 584.4 678.1 C582.6 679.4 583.1 680.5 583.3 682.0 C583.5 683.5 584.2 685.2 585.4 686.9 C586.6 688.6 588.5 691.6 590.3 692.0 C592.1 692.4 594.7 690.7 596.2 689.3 C597.7 687.9 599.1 685.4 599.4 683.4 C599.7 681.4 598.4 678.1 598.2 677.1" class="ln" fill="#fff"/>
<path d="M568.3 657.5 C568.5 656.3 569.2 654.5 570.3 653.6 C571.3 652.7 573.2 651.9 574.6 652.0 C576.0 652.1 577.7 653.0 578.5 654.0 C579.3 655.0 579.8 656.6 579.5 657.9 C579.2 659.2 578.2 661.0 577.0 661.8 C575.8 662.6 573.6 662.8 572.3 662.6 C571.0 662.4 569.8 661.5 569.1 660.6 C568.4 659.8 568.1 658.7 568.3 657.5Z" class="ln"/>
<path d="M586.4 655.1 C586.3 655.7 585.7 657.5 585.6 658.5 C585.5 659.5 585.8 660.9 585.8 661.4 M589.5 656.1 C589.4 656.7 588.8 658.4 588.7 659.5 C588.6 660.6 588.9 662.1 588.9 662.6 M593.1 657.1 C593.0 657.5 592.4 659.1 592.3 659.5 M595.8 659.5 C595.5 660.1 594.5 661.8 594.2 663.0 C593.9 664.2 594.0 665.9 593.9 666.5" class="ln"/>
<circle cx="602.1" cy="651.6" r="2.300" class="ln"/>
<path d="M602.1 638.8 C602.8 639.6 604.7 641.8 606.0 643.4 C607.3 645.0 609.3 647.3 610.0 648.1 M625.7 637.9 C625.0 638.9 623.0 641.8 621.7 643.7 C620.4 645.7 618.4 648.6 617.8 649.6 M612.9 641.8 C612.6 642.1 611.6 643.2 611.1 643.7 C610.6 644.2 610.2 644.7 610.0 644.9 M618.2 650.8 C619.1 650.6 621.8 649.8 623.7 649.6 C625.6 649.4 628.6 649.6 629.6 649.6" class="ln"/>
<path d="M607.0 670.8 C608.0 671.7 611.1 674.4 612.9 676.1 C614.7 677.8 615.3 679.3 617.8 681.1 C620.2 682.9 624.6 685.6 627.6 686.9 C630.6 688.2 634.2 688.6 635.5 688.9" class="ln"/>
<path d="M590.3 686.9 C590.6 686.2 591.3 683.7 592.3 682.6 C593.3 681.5 595.6 680.5 596.2 680.1 M610.0 686.9 C610.0 687.2 610.1 688.2 610.3 688.9 C610.5 689.6 611.0 690.9 611.1 691.3 M614.9 688.9 C615.0 689.5 615.3 691.1 615.5 692.4 C615.7 693.6 616.1 695.7 616.2 696.4 M617.8 688.9 C617.9 689.5 618.1 691.3 618.2 692.4 C618.3 693.5 618.5 695.1 618.6 695.6 M607.6 691.3 C607.5 690.2 607.6 686.9 607.0 685.0 C606.4 683.1 604.6 680.9 604.1 680.1" class="ln"/>
<path d="M648.8 690.5 q-4 14 4 26" class="ln"/>
<!-- arrow -->
<path d="M511.600 648.800 H496" stroke="#d9141c" stroke-width="1.300"/>
<path d="M483.800 648.800 L497.600 645.300 V652.300Z" fill="#d9141c"/>
</g>

<!--BIGS--><g id="big">
<defs>
<linearGradient id="bscr" gradientUnits="userSpaceOnUse" x1="450" y1="374" x2="470.200" y2="286.300">
<stop offset="0" stop-color="#ffffff"/><stop offset="0.1" stop-color="#f6f6f6"/><stop offset="0.2" stop-color="#c4c4c4"/><stop offset="0.3" stop-color="#484848"/><stop offset="0.4" stop-color="#080808"/><stop offset="0.66" stop-color="#050505"/><stop offset="0.75" stop-color="#666"/><stop offset="0.82" stop-color="#c8c8c8"/><stop offset="0.88" stop-color="#f4f4f4"/><stop offset="1" stop-color="#ffffff"/>
</linearGradient>
<linearGradient id="bshade" gradientUnits="userSpaceOnUse" x1="520" y1="385" x2="490" y2="335">
<stop offset="0" stop-color="#fff" stop-opacity="0.9"/><stop offset="0.45" stop-color="#fff" stop-opacity="0.25"/><stop offset="1" stop-color="#000" stop-opacity="0.75"/>
</linearGradient>
<filter id="bblur" x="-20%" y="-40%" width="140%" height="180%"><feGaussianBlur stdDeviation="3.800"/></filter><filter id="bblur2" x="-20%" y="-40%" width="140%" height="180%"><feGaussianBlur stdDeviation="2.500"/></filter>
<clipPath id="bclip"><path d="M421 358.800 L575 320.800 Q590 317 600 320 L648 333.500 Q660 337 646 341.800 L531 381.800 Q517 386.500 507.300 384.600 L413 366.200 Q400 363.500 421 358.800Z"/></clipPath>
</defs>
<!-- base tray -->
<path d="M358.800 364.500 L565 313 L703.200 334.800 L698.700 343.800 L501.500 413 L360 378.400Z" fill="#f4f4f4" stroke="#cfcfcf" stroke-width="0.800"/>
<path d="M371.500 368.500 L566 318.500" fill="none" stroke="#dcdcdc" stroke-width="0.800"/>
<path d="M362 366.500 L566 315.500" fill="none" stroke="#fff" stroke-width="1.400"/>
<!-- front-left wall -->
<path d="M358.800 364.500 L501.500 389.700 L501.500 413 L360 378.400Z" fill="#ececec"/>
<path d="M372 372 L485 393.500 L485 402 L374 378Z" fill="#cfcfcf"/>
<!-- phone side layers front-left -->
<path d="M385.900 369 L519 399.500 L519 405 L392 376Z" fill="#8a8a8a"/>
<path d="M392 376 L519 405 L519 408 L400 380.500Z" fill="#c9c9c9"/>
<!-- front-right wall -->
<path d="M501.500 389.700 L703.200 334.800 L698.700 343.800 L501.500 413Z" fill="#e6e6e6"/>
<path d="M507 393 L690 340.500 L688 346.500 L507 400.500Z" fill="#1d1d1d"/>
<path d="M507 400.500 L688 346.500 L687 349 L507 403.500Z" fill="#8d8d8d"/>
<path d="M501.500 389.700 L703.200 334.800" fill="none" stroke="#fafafa" stroke-width="1.600"/>
<path d="M358.800 364.500 L501.500 389.700" fill="none" stroke="#fbfbfb" stroke-width="1.600"/>
<path d="M360 378.400 L501.500 413 L698.700 343.800" fill="none" stroke="#d6d6d6" stroke-width="0.800"/>
<!-- phone frame -->
<path d="M385.900 369 Q385 365.500 396.800 363 L440 351.600 L580 314.600 Q592 311.500 603 314.500 L668 334.500 Q680 338 667 342.300 L531 395.200 Q519 400 508 397.300 L397 372.400 Q386.500 370.500 385.900 369Z" fill="#1b1b1b"/>
<!-- grey band front-right of frame -->
<path d="M524 391 L668 340.500 L672 341 L530 394.500Z" fill="#7a7a7a"/>
<!-- screen -->
<path d="M421 358.800 L575 320.800 Q590 317 600 320 L648 333.500 Q660 337 646 341.800 L531 381.800 Q517 386.500 507.300 384.600 L413 366.200 Q400 363.500 421 358.800Z" fill="#fbfbfb"/>
<g clip-path="url(#bclip)"><path d="M466.0 342.0 C469.2 336.8 495.7 329.8 505.0 327.0 C514.3 324.2 517.3 324.1 522.0 325.0 C526.7 325.9 529.0 331.0 533.0 332.5 C537.0 334.0 541.2 334.0 546.0 334.0 C550.8 334.0 556.3 332.6 562.0 332.5 C567.7 332.4 573.3 332.6 580.0 333.5 C586.7 334.4 595.3 336.1 602.0 338.0 C608.7 339.9 614.7 342.3 620.0 345.0 C625.3 347.7 636.3 350.2 634.0 354.0 C631.7 357.8 616.0 363.7 606.0 368.0 C596.0 372.3 582.2 378.2 574.0 380.0 C565.8 381.8 562.5 380.4 557.0 379.0 C551.5 377.6 548.5 373.5 541.0 371.5 C533.5 369.5 521.2 369.2 512.0 367.0 C502.8 364.8 493.7 362.2 486.0 358.0 C478.3 353.8 462.8 347.2 466.0 342.0Z" fill="#000" filter="url(#bblur)"/><path d="M492.0 343.0 C495.3 339.7 512.0 334.8 520.0 334.0 C528.0 333.2 533.3 337.5 540.0 338.0 C546.7 338.5 552.0 336.5 560.0 337.0 C568.0 337.5 579.3 339.0 588.0 341.0 C596.7 343.0 610.0 345.8 612.0 349.0 C614.0 352.2 607.0 356.5 600.0 360.0 C593.0 363.5 578.7 369.0 570.0 370.0 C561.3 371.0 556.0 367.5 548.0 366.0 C540.0 364.5 530.0 363.0 522.0 361.0 C514.0 359.0 505.0 357.0 500.0 354.0 C495.0 351.0 488.7 346.3 492.0 343.0Z" fill="#000" filter="url(#bblur2)"/></g>
<g clip-path="url(#bclip)" fill="none" stroke="#fff" stroke-opacity="0.700" stroke-width="0.700">
<path d="M519.6 339.0 C519.6 337.0 524.3 334.8 528.0 333.4 C531.7 332.0 536.7 331.4 542.0 330.6 C547.3 329.8 553.7 328.6 560.0 328.4 C566.3 328.2 574.2 328.7 580.0 329.5 C585.8 330.3 591.5 331.7 595.0 333.0 C598.5 334.3 601.0 335.4 601.0 337.2 C601.0 339.0 598.8 341.6 595.0 344.0 C591.2 346.4 585.0 350.4 578.5 351.6 C572.0 352.8 562.2 351.5 556.1 351.0 C550.0 350.5 546.7 349.8 542.0 348.8 C537.3 347.9 531.7 346.9 528.0 345.3 C524.3 343.7 519.6 341.0 519.6 339.0Z"/>
<path d="M440.0 362.0 C443.7 360.3 454.5 354.5 462.0 352.0 C469.5 349.5 478.7 348.2 485.0 347.2 C491.3 346.2 495.2 346.2 500.0 346.0 C504.8 345.8 509.3 345.8 514.0 345.8 C518.7 345.9 523.3 345.8 528.0 346.3 C532.7 346.8 537.3 347.7 542.0 348.8 C546.7 349.9 552.4 351.5 556.1 353.0 C559.9 354.5 563.0 356.6 564.5 358.0 C566.0 359.4 565.9 360.2 565.2 361.5 C564.5 362.8 563.0 364.3 560.3 365.7 C557.6 367.1 553.2 368.5 549.0 369.9 C544.8 371.3 540.7 372.5 535.0 374.0 C529.3 375.5 518.3 378.2 515.0 379.0"/>
</g>
<!-- island + speaker -->
<path d="M598 324.200 L624 329.800 Q627 331 624 332 L598.500 327 Q594.500 325.500 598 324.200Z" fill="#0a0a0a"/>
<path d="M593 320.500 L640 330" stroke="#333" stroke-width="1" stroke-dasharray="4 2" fill="none"/>
<path d="M655 333.200 L671 336.800 Q677 338.500 670 341.300 L636 353 L650 345 Q663 339 655 333.200Z" fill="#6e6e6e"/>
<!-- holes on frame -->
<g fill="#5a5a5a"><ellipse cx="411.500" cy="370.500" rx="2.600" ry="0.900" transform="rotate(13 411.500 370.500)"/><ellipse cx="469" cy="382.500" rx="2.600" ry="0.900" transform="rotate(13 469 382.500)"/><ellipse cx="487" cy="386.300" rx="2.200" ry="0.900" transform="rotate(13 487 386.300)"/></g>
<path d="M418 373 Q424 369.500 431 371.500 L436 374 Q437 376 433 377 Q425 378 418 373Z" fill="#060606"/>
<!-- corner posts -->
<path d="M484 387.500 L501.500 390.500 L501.500 413 L489 410 Q484.500 404 484 387.500Z" fill="#f1f1f1" stroke="#c2c2c2" stroke-width="0.700"/>
<path d="M486 391.500 L496 393.500 L496 398.500 L486.500 396.500Z M488 397.500 q0 8 3 11.500" fill="none" stroke="#9d9d9d" stroke-width="0.700"/>
<path d="M501.500 390.500 V413" stroke="#b9b9b9" stroke-width="1"/>
<path d="M358.800 364.500 L371.500 368.500 L372.500 381 L360 378.400Z" fill="#f3f3f3" stroke="#c6c6c6" stroke-width="0.700"/>
<path d="M363 367 q-1 6 1.500 10.500 M368 368 q-1 6 1 11" fill="none" stroke="#bdbdbd" stroke-width="0.600"/>
<!-- hinge right corner -->
<path d="M690 339 L703.200 334.800 L698.700 343.800 L688 347.500Z" fill="#efefef" stroke="#c9c9c9" stroke-width="0.600"/>
<!-- LID -->
<path d="M446.400 80.200 Q446 78.500 449 78.200 L592 69.800 Q596.500 69.800 598 73 L704.500 332 Q705.500 335 702 336 L690 339 L571 319Z" fill="#fdfdfd" fill-opacity="0.860" stroke="#c2c2c2" stroke-width="1"/>
<path d="M454 84.500 L589 76 L694 333 M454 84.500 L578.500 320.500" fill="none" stroke="#cecece" stroke-width="0.800"/>
<path d="M449.500 82 L574.500 319.500 M594 72.500 L699.500 334" fill="none" stroke="#e4e4e4" stroke-width="1.600"/>
<path d="M459 87.500 L586 79.500" fill="none" stroke="#e6e6e6" stroke-width="0.700"/>
<!-- lid corner clips -->
<path d="M455 84 l6 -3.500 l2.500 4 l-5.500 4.500z M584 78 l6 -4.500 l2.500 4.500 l-5.500 5z" fill="#e4e4e4" stroke="#c4c4c4" stroke-width="0.600"/>
<!-- lid small details -->
<g fill="none" stroke="#d0d0d0" stroke-width="0.700">
<path d="M609.800 140 q1.500 -2 3.500 -0.500 L634.500 196 q0.500 2.500 -2 2.800 q-1.800 0 -2.500 -1.500Z"/>
<path d="M484 140 l-2 1.500 l4 9 M520 213 l-2.500 1.500 l3.500 8 M555 281 l-2.500 1.500 l3.500 8 M612.500 140 l3 -1 M642.500 218 l3 -1.500 l2 5 M671 290 l3 -1.500 l2 6"/>
<path d="M609.200 244.300 Q612 242 614 246 L630 280.700 Q632 287 626 290.500 L622.500 292.800"/>
<path d="M461 112 l3 -1.500 M473 136 l3 -1.500 M497 185 l3 -1.500 M521 234 l3 -1.500 M545 283 l3 -1.500 M618 118 l-3 1.300 M638 168 l-3 1.300 M658 218 l-3 1.300 M678 268 l-3 1.300"/>
</g>
<!-- slot piece top -->
<path d="M502 81.500 L561.300 101.700 Q562.500 103 561.500 105 L557 110.500 Q555.500 111.500 553 110.700 L494.400 94.100 Z" fill="#f3f3f3" stroke="#9a9a9a" stroke-width="0.800"/>
<path d="M509 94.500 q-2 -2.500 2 -3 L545 102.500 q3 1.500 1 4 q-1.500 1 -4 0.300Z" fill="#fff" stroke="#a8a8a8" stroke-width="0.700"/>
<path d="M489.300 88.500 L497.500 84 L500.500 89 L492.500 93.500Z" fill="#111"/>
<path d="M493.500 88.500 l3 -1.700 l1 1.700 l-3 1.700z" fill="none" stroke="#ccc" stroke-width="0.500"/>
<!-- device drawing mid -->
<g fill="none" stroke="#7c7c7c" stroke-width="0.700">
<path d="M546 204 Q545 199 551 198.500 L592 196.500 Q597 196.500 599 201 L606.500 225 Q607 229 603 229.500 L566 232 Q556 226 549 214Z" fill="#fafafa"/>
<path d="M585 199 L596 198 Q598 198.500 599 201 L606 224.500 Q606 227.500 603.500 228 L594 228.800Z"/>
<path d="M588 203 l8 -0.600 l6.500 21 l-8 0.600z" stroke-dasharray="1.300 0.900"/>
<path d="M551 205 h6 M553 209 l8 -0.500"/>
</g>
<path d="M558 221.500 l8 -0.600 l0.800 2.500 l-8 0.600z" fill="#222"/>
<path d="M598.500 229.800 l3.500 -0.300 l0.300 1.300 l-3.500 0.300z" fill="#222"/>
<!-- tiny text lines -->
<g font-family="Liberation Sans,sans-serif" font-size="3.100" fill="#777">
<text transform="translate(569 118.500) rotate(183)" textLength="62" lengthAdjust="spacingAndGlyphs">2. Clean the screen with the wet &amp; dry wipes</text>
<text transform="translate(568 123) rotate(183)" textLength="60" lengthAdjust="spacingAndGlyphs">then use the dust removal stickers to</text>
<text transform="translate(566 127.500) rotate(183)" textLength="55" lengthAdjust="spacingAndGlyphs">remove any remaining dust particles</text>
<text transform="translate(603 234.500) rotate(183)" textLength="38" lengthAdjust="spacingAndGlyphs">3. Align the tray with phone</text>
<text transform="translate(601 238.500) rotate(183)" textLength="32" lengthAdjust="spacingAndGlyphs">and press it into place</text>
<text transform="translate(633 293) rotate(183)" textLength="40" lengthAdjust="spacingAndGlyphs">4. Peel the film, swipe down</text>
<text transform="translate(630 297) rotate(183)" textLength="34" lengthAdjust="spacingAndGlyphs">slowly along the guide</text>
</g>
<path d="M549 112 L572 168 L600 232 L622 286" fill="none" stroke="#e2e2e2" stroke-width="0.700"/>
<!-- STRIP seg1 -->
<path d="M518.500 114.500 L522.800 114.200 L540 150.500 L553 172 L577 232 L600.500 289.500 L596 290.500 L573 234 L549 175 L536 153Z" fill="#dcdcdc"/>
<path d="M524.300 113.900 L546.700 112.800 L560.600 148 Q560.800 150.500 558 150.600 L544 151.500 Q541 151.300 540.300 149.100Z" fill="#1d1d1d"/>
<path d="M530.500 116.500 L543.500 115.700 Q545.500 115.700 546.300 117.500 L551 129.500 Q551.500 131.500 549.500 131.700 L537 132.700 Q535 132.700 534.200 131 L529 119 Q528.500 116.700 530.500 116.500Z" fill="#2e2e2e" stroke="#bdbdbd" stroke-width="0.800"/>
<g transform="translate(540 124.200) rotate(-4) skewX(20)" fill="none" stroke="#9c9c9c" stroke-width="0.700"><ellipse rx="6" ry="5.400"/><ellipse rx="4.200" ry="3.700"/><ellipse rx="2.500" ry="2.100"/><ellipse rx="0.900" ry="0.700"/></g>
<circle cx="545.600" cy="138.400" r="4.300" fill="#222" stroke="#cfcfcf" stroke-width="0.700"/>
<path d="M543.600 137.300 q2 -2.300 4.200 -0.400 M543.800 139.800 l2 1 l2 -1.200" stroke="#f0f0f0" stroke-width="1" fill="none"/>
<text transform="translate(557 146.800) rotate(186)" font-family="Liberation Sans,sans-serif" font-size="5" font-style="italic" font-weight="bold" fill="#fff">ronup</text>
<!-- tail + seg2 -->
<path d="M542.600 153.300 L559.500 152.300 L564.200 156.300 L566.700 166 L571.500 173.500 L595.700 230.300 L587.500 237 L575.300 231 L552 171Z" fill="#161616"/>
<path d="M547.500 158 L556.500 156 L562 159.500" stroke="#fff" stroke-width="0.900" fill="none"/>
<ellipse cx="560.700" cy="175.400" rx="3" ry="1.100" transform="rotate(22 560.700 175.400)" fill="#fff"/>
<text transform="translate(562.500 181) rotate(66.500)" font-family="Liberation Sans,sans-serif" font-size="6.400" font-style="italic" fill="#f2f2f2" textLength="49" lengthAdjust="spacingAndGlyphs">Apply it on the surface</text>
<!-- chevrons 2 -->
<g fill="none" stroke="#161616" stroke-width="2.500">
<path d="M578.900 235.500 L591.700 242.900 L599.100 237.600"/>
<path d="M581 241.300 L593.300 250.400 L601.800 244"/>
</g>
<!-- seg3 -->
<path d="M586.300 251.500 L603 251 Q605.500 251.500 606.500 254 L619.400 283 L602 286.500Z" fill="#232323"/>
<circle cx="596" cy="256.300" r="3.200" fill="none" stroke="#eee" stroke-width="0.700"/>
<g fill="none" stroke="#5a5a5a" stroke-width="1.500">
<path d="M594 266 L606 264.500 L611.500 270.500 M596 270.500 L608 269 L613.500 275"/>
</g>
<path d="M602.300 286.500 L615 293.600 L621 287.200" fill="none" stroke="#161616" stroke-width="2.500"/>
<!-- TOP band -->
<path d="M569.100 298.900 Q620 298.500 672 311 Q675.500 312 674 315 L668 328.500 Q666.500 331 663 330.500 L588 318 Q584 317.300 582 314.500Z" fill="#0e0e0e"/>
<path d="M583.500 300.200 L654 308.500 L648 327.800 L590 318Z" fill="#2c2c2c" stroke="#666" stroke-width="0.500"/><path d="M587 309.500 L651 318" stroke="#666" stroke-width="0.500" fill="none"/>
<circle cx="617.700" cy="307.400" r="5" fill="none" stroke="#6a6a6a" stroke-width="0.700"/>
<text transform="translate(636 320.500) rotate(188)" font-family="Liberation Sans,sans-serif" font-size="6.600" font-weight="bold" fill="#fff">TOP</text>
<g stroke="#f2f2f2" stroke-width="1" fill="none">
<path d="M590.500 313.500 l3 -3 l3 3.800 M591 316.500 l3 -3 l3 3.800"/>
<path d="M657.500 322.500 l3.500 -3 l3 4 M658 325.700 l3.500 -3 l3 4"/>
</g>
<g transform="translate(506.4 145.2) rotate(58.2)"><rect x="-15.6" y="-4.2" width="31.2" height="8.4" rx="4.2" fill="#0b0b0b"/><text x="0" y="2.1" font-size="6.2" text-anchor="middle" fill="#fff" font-family="Liberation Sans,sans-serif" font-style="italic" textLength="23.2" lengthAdjust="spacingAndGlyphs">Long Hole</text></g><g transform="translate(592.5 145.8) rotate(58.7)"><rect x="-16.2" y="-4.2" width="32.5" height="8.4" rx="4.2" fill="#0b0b0b"/><text x="0" y="2.1" font-size="6.2" text-anchor="middle" fill="#fff" font-family="Liberation Sans,sans-serif" font-style="italic" textLength="24.5" lengthAdjust="spacingAndGlyphs">Longer Hole</text></g><g transform="translate(541 219) rotate(59.7)"><rect x="-14.0" y="-4.1" width="28.0" height="8.2" rx="4.1" fill="#0b0b0b"/><text x="0" y="2.1" font-size="6.2" text-anchor="middle" fill="#fff" font-family="Liberation Sans,sans-serif" font-style="italic" textLength="20.0" lengthAdjust="spacingAndGlyphs">Long Hole</text></g><g transform="translate(625.6 224.6) rotate(61.4)"><rect x="-14.8" y="-4.1" width="29.5" height="8.2" rx="4.1" fill="#0b0b0b"/><text x="0" y="2.1" font-size="6.2" text-anchor="middle" fill="#fff" font-family="Liberation Sans,sans-serif" font-style="italic" textLength="21.5" lengthAdjust="spacingAndGlyphs">Round Hole</text></g><g transform="translate(572.2 286.2) rotate(60)"><rect x="-13.5" y="-4.1" width="27.0" height="8.2" rx="4.1" fill="#0b0b0b"/><text x="0" y="2.1" font-size="6.2" text-anchor="middle" fill="#fff" font-family="Liberation Sans,sans-serif" font-style="italic" textLength="19.0" lengthAdjust="spacingAndGlyphs">Long Hole</text></g><g transform="translate(655.3 295.3) rotate(55)"><rect x="-15.0" y="-4.2" width="30.0" height="8.4" rx="4.2" fill="#0b0b0b"/><text x="0" y="2.1" font-size="6.2" text-anchor="middle" fill="#fff" font-family="Liberation Sans,sans-serif" font-style="italic" textLength="22.0" lengthAdjust="spacingAndGlyphs">Long Hole</text></g>
<path d="M500.7 144.6 L495.5 144.6" stroke="#111" stroke-width="1.7"/><path d="M491.9 144.6 L495.5 142.1 L495.5 147.1Z" fill="#111"/><path d="M600.2 145.6 L604.6 145.7" stroke="#111" stroke-width="1.7"/><path d="M608.2 145.8 L604.5 148.2 L604.7 143.2Z" fill="#111"/><path d="M534.5 217.1 L531.1 217.1" stroke="#111" stroke-width="1.7"/><path d="M527.5 217.1 L531.1 214.6 L531.1 219.6Z" fill="#111"/><path d="M633.5 223.4 L636.9 223.4" stroke="#111" stroke-width="1.7"/><path d="M640.5 223.4 L636.9 225.9 L636.9 220.9Z" fill="#111"/><path d="M567.0 283.6 L563.9 283.6" stroke="#111" stroke-width="1.7"/><path d="M560.3 283.6 L563.9 281.1 L563.9 286.1Z" fill="#111"/><path d="M662.3 294.0 L665.4 294.0" stroke="#111" stroke-width="1.7"/><path d="M669.0 294.0 L665.4 296.5 L665.4 291.5Z" fill="#111"/>
<!-- black tab -->
<path d="M459 17.800 H520 Q527 17.800 530 23 L539.500 43.700 H465.200 L456.300 21.500 Q455.500 17.800 459 17.800Z" fill="#0c0c0c"/>
<path d="M486.500 21.400 H497 Q499.800 21.400 501 24 L507.300 37.600 Q508.300 40.300 505.500 40.300 H493 Q490.500 40.300 489.500 38 L483.800 24.200 Q483 21.400 486.500 21.400Z" fill="#1a1a1a" stroke="#f7f7f7" stroke-width="1.300"/>
<g fill="none" stroke="#bcbcbc" stroke-width="0.700" transform="translate(495.600 30.800) skewX(24)"><ellipse rx="5.600" ry="6.500"/><ellipse rx="4" ry="4.800"/><ellipse rx="2.500" ry="3.100"/><ellipse rx="1" ry="1.400"/></g>
<!-- ribbon -->
<g fill="none" stroke="#111" stroke-width="2.600">
<path d="M496.400 52.100 L501.400 45.300 L514.900 54.100"/>
<path d="M498.100 56.500 L503.100 49.900 L516.600 58.800"/>
</g>
<path d="M504.800 54.100 L518.300 63 L525.800 79 L516 72 L509.800 79 L499.700 60.500Z" fill="#111"/>
<!-- red arrow -->
<path d="M379 196 L410 196.800" stroke="#d9141c" stroke-width="2"/>
<path d="M435.500 197.300 L406 189.500 L406 204.800Z" fill="#d9141c"/>
</g>
<!--BIGE-->
</svg>
</body></html>
